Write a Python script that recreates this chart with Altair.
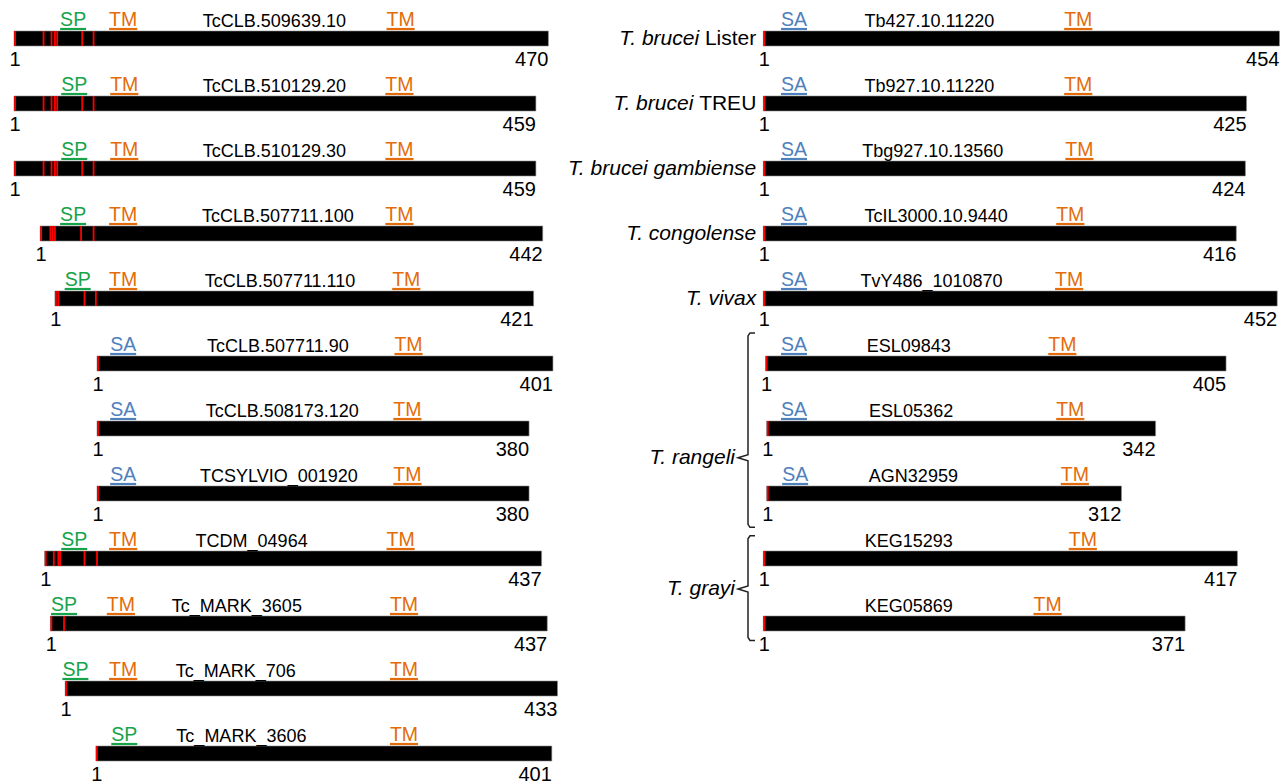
import altair as alt
import pandas as pd

# ---------------- sequences, left column (T. cruzi) ----------------
left_ids = ["TcCLB.509639.10", "TcCLB.510129.20", "TcCLB.510129.30", "TcCLB.507711.100",
            "TcCLB.507711.110", "TcCLB.507711.90", "TcCLB.508173.120", "TCSYLVIO_001920",
            "TCDM_04964", "Tc_MARK_3605", "Tc_MARK_706", "Tc_MARK_3606"]
left_lengths = [470, 459, 459, 442, 421, 401, 380, 380, 437, 437, 433, 401]
# alignment offset of residue 1, in residues
left_offsets = [0, 0, 0, 23, 36, 73, 73, 73, 27, 32, 45, 72]
# N-terminal feature: signal peptide (SP) or signal anchor (SA)
left_nterm = ["SP", "SP", "SP", "SP", "SP", "SA", "SA", "SA", "SP", "SP", "SP", "SP"]
left_nterm_pos = [52, 53, 53, 29, 20, 23, 23, 23, 26, 12, 9, 25]
left_tm1_pos = [96, 97, 97, 73, 60, None, None, None, 69, 62, 51, None]
left_tm2_pos = [340, 339, 339, 316, 309, 274, 273, 273, 313, 311, 298, 271]
left_id_pos = [229, 229, 229, 209, 198, 159, 163, 160, 182, 164, 150, 128]
# highlighted residues (red marks)
left_marks = [[26, 33, 36, 38, 60, 70], [26, 33, 36, 38, 60, 70], [26, 33, 36, 38, 60, 70],
              [9, 11, 13, 36, 47], [3, 26, 36], [], [], [], [8, 12, 13.5, 35, 46], [12], [], []]

# ---------------- sequences, right column (other trypanosomes) ----------------
right_ids = ["Tb427.10.11220", "Tb927.10.11220", "Tbg927.10.13560", "TcIL3000.10.9440",
             "TvY486_1010870", "ESL09843", "ESL05362", "AGN32959", "KEG15293", "KEG05869"]
right_lengths = [454, 425, 424, 416, 452, 405, 342, 312, 417, 371]
right_offsets = [0, 0, 0, 0, 0, 2, 3, 3, 0, 0]
right_sa_pos = [27, 27, 27, 27, 27, 25, 24, 25, None, None]
right_tm_pos = [277, 277, 278, 270, 269, 261, 267, 271, 281, 250]
right_id_pos = [146, 146, 149, 152, 148, 126, 127, 129, 128, 128]

# species names for single tracks (italic part, upright part)
species_single = [("T. brucei", "Lister"), ("T. brucei", "TREU"), ("T. brucei gambiense", ""),
                  ("T. congolense", ""), ("T. vivax", "")]
# species grouping several tracks: name, bracket top, bracket bottom, label row (track units)
species_groups = ["T. rangeli", "T. grayi"]
group_top = [4.53, 7.65]
group_bottom = [7.52, 9.26]
group_mid = [6.45, 8.47]

# ---------------- layout ----------------
W, H = 1282, 784
K = 1.137            # px per residue
LEFT_X0 = 14.0       # px of residue 1, left column
RIGHT_X0 = 763.3     # px of residue 1, right column
ROW0_Y = 38.5        # px centre of the first track
ROW_STEP = 65.0      # px between tracks
BAR_HALF = 7.5       # px
RIGHT_BASE = (RIGHT_X0 - LEFT_X0) / K

FONT = "Liberation Sans"
COLORS = {"SP": "#17a34a", "TM": "#e46c0a", "SA": "#4f81bd"}
LABEL_SIZE = 19.5
ADV = {"L": .556, "i": .222, "s": .5, "t": .278, "e": .556, "r": .333, "T": .611, "R": .722,
       "E": .667, "U": .722, " ": .278, "S": .667, "P": .667, "M": .833, "A": .667}


def text_w(s, size):
    return sum(ADV.get(c, .556) for c in s) * size


def px(v):
    return v / ROW_STEP


bars, marks, feats, ids, ones, ends = [], [], [], [], [], []


def add_track(row, base, offset, length, ident, id_pos, feature_list, red):
    u0 = base + offset
    u1 = u0 + length
    bars.append(dict(a=u0, b=u1, t=row - px(BAR_HALF), s=row + px(BAR_HALF)))
    marks.append(dict(u=u0 + 0.9, t=row - px(BAR_HALF), s=row + px(BAR_HALF)))
    for r in red:
        marks.append(dict(u=u0 + r, t=row - px(BAR_HALF), s=row + px(BAR_HALF)))
    for lab, pos in feature_list:
        if pos is None:
            continue
        hw = text_w(lab, LABEL_SIZE) / 2 / K
        feats.append(dict(u=u0 + pos, a=u0 + pos - hw, b=u0 + pos + hw, row=row,
                          ul=row - px(9.5), label=lab))
    ids.append(dict(u=u0 + id_pos, row=row, text=ident))
    ones.append(dict(u=u0, row=row, text="1"))
    ends.append(dict(u=u1, row=row, text=str(length)))


for i in range(len(left_ids)):
    add_track(i, 0.0, left_offsets[i], left_lengths[i], left_ids[i], left_id_pos[i],
              [(left_nterm[i], left_nterm_pos[i]), ("TM", left_tm1_pos[i]), ("TM", left_tm2_pos[i])],
              left_marks[i])

for j in range(len(right_ids)):
    add_track(j, RIGHT_BASE, right_offsets[j], right_lengths[j], right_ids[j], right_id_pos[j],
              [("SA", right_sa_pos[j]), ("TM", right_tm_pos[j])], [])

# species labels
SP_SIZE = 21
edge = RIGHT_BASE - 7 / K
sp_it, sp_up = [], []
for j, (it, up) in enumerate(species_single):
    if up:
        sp_up.append(dict(u=edge, row=j, text=up))
        sp_it.append(dict(u=edge - text_w(" " + up, SP_SIZE) / K, row=j, text=it))
    else:
        sp_it.append(dict(u=edge, row=j, text=it))

brace_x = RIGHT_BASE - 15.3 / K
hook_x = RIGHT_BASE - 8.3 / K
nub_x = RIGHT_BASE - 25.3 / K
c = px(3)
brace = []
for g, name in enumerate(species_groups):
    top, bot, mid = group_top[g], group_bottom[g], group_mid[g]
    pts = [(hook_x, top), (brace_x + 2 / K, top), (brace_x, top + c), (brace_x, mid - c),
           (nub_x, mid), (brace_x, mid + c), (brace_x, bot - c), (brace_x + 2 / K, bot), (hook_x, bot)]
    for k, (u, r) in enumerate(pts):
        brace.append(dict(g=name, k=k, u=u, row=r))
    sp_it.append(dict(u=nub_x - 3 / K, row=mid, text=name))

# ---------------- chart ----------------
xs = alt.Scale(domain=[-LEFT_X0 / K, (W - LEFT_X0) / K], nice=False, zero=False)
ys = alt.Scale(domain=[-ROW0_Y / ROW_STEP, (H - ROW0_Y) / ROW_STEP], nice=False, zero=False,
               reverse=True)
cs = alt.Scale(domain=list(COLORS), range=list(COLORS.values()))


def X(f):
    return alt.X(f"{f}:Q", scale=xs, axis=None)


def Y(f):
    return alt.Y(f"{f}:Q", scale=ys, axis=None)


bar_layer = alt.Chart(pd.DataFrame(bars)).mark_rect(
    color="black", stroke="#8a8a8a", strokeWidth=0.6
).encode(x=X("a"), x2="b:Q", y=Y("t"), y2="s:Q")

mark_layer = alt.Chart(pd.DataFrame(marks)).mark_rule(
    color="#ff0000", strokeWidth=1.8
).encode(x=X("u"), y=Y("t"), y2="s:Q")

feat_df = pd.DataFrame(feats)
feat_text = alt.Chart(feat_df).mark_text(
    font=FONT, fontSize=LABEL_SIZE, baseline="alphabetic", align="center", dy=-13
).encode(x=X("u"), y=Y("row"), text="label:N",
         color=alt.Color("label:N", scale=cs, legend=None))
feat_line = alt.Chart(feat_df).mark_rule(strokeWidth=2.2).encode(
    x=X("a"), x2="b:Q", y=Y("ul"), color=alt.Color("label:N", scale=cs, legend=None))

id_layer = alt.Chart(pd.DataFrame(ids)).mark_text(
    font=FONT, fontSize=18, baseline="alphabetic", align="center", dy=-11.5, color="black"
).encode(x=X("u"), y=Y("row"), text="text:N")

one_layer = alt.Chart(pd.DataFrame(ones)).mark_text(
    font=FONT, fontSize=20, baseline="alphabetic", align="center", dx=1, dy=27, color="black"
).encode(x=X("u"), y=Y("row"), text="text:N")

end_layer = alt.Chart(pd.DataFrame(ends)).mark_text(
    font=FONT, fontSize=20, baseline="alphabetic", align="right", dy=27, color="black"
).encode(x=X("u"), y=Y("row"), text="text:N")

sp_it_layer = alt.Chart(pd.DataFrame(sp_it)).mark_text(
    font=FONT, fontSize=SP_SIZE, fontStyle="italic", baseline="middle", align="right", color="black"
).encode(x=X("u"), y=Y("row"), text="text:N")

sp_up_layer = alt.Chart(pd.DataFrame(sp_up)).mark_text(
    font=FONT, fontSize=SP_SIZE, baseline="middle", align="right", color="black"
).encode(x=X("u"), y=Y("row"), text="text:N")

brace_layer = alt.Chart(pd.DataFrame(brace)).mark_line(
    color="#222222", strokeWidth=1.5
).encode(x=X("u"), y=Y("row"), detail="g:N", order="k:Q")

chart = alt.layer(
    bar_layer, mark_layer, feat_line, feat_text, id_layer, one_layer, end_layer,
    sp_it_layer, sp_up_layer, brace_layer
).properties(
    width=W, height=H, padding=0, autosize=alt.AutoSizeParams(type="none"), background="white"
).configure_view(stroke=None)

chart.save("out.html", embed_options={"renderer": "svg", "actions": False})
